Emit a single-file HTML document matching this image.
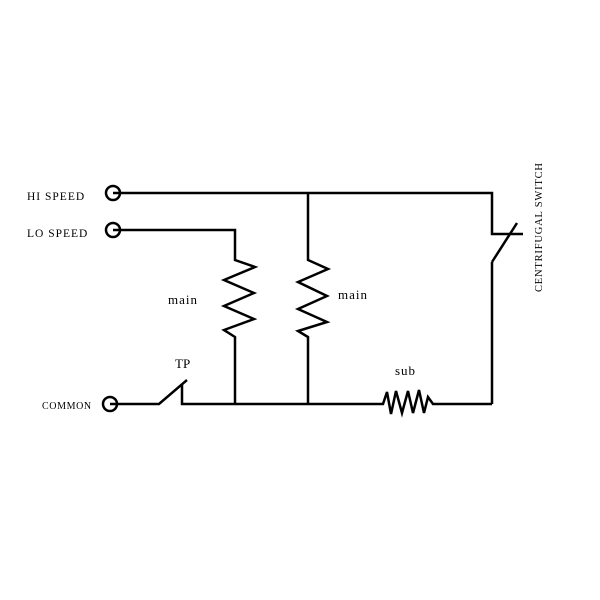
<!DOCTYPE html>
<html><head><style>body{margin:0;background:#fff}svg{display:block}</style></head><body>
<svg width="600" height="600" viewBox="0 0 600 600" xmlns="http://www.w3.org/2000/svg">
<g fill="none" stroke="#000" stroke-width="2.5">
<circle cx="113" cy="193" r="7"/>
<circle cx="113" cy="230" r="7"/>
<circle cx="110" cy="404" r="7"/>
<polyline points="113,193 492,193 492,234 523,234"/>
<line x1="492" y1="262" x2="517" y2="223"/>
<polyline points="492,262 492,404"/>
<polyline points="113,230 235,230 235,260 255,267 224,280 254,293 224,306 254,319 224,330 235,337 235,404"/>
<polyline points="308,193 308,260 328,269 298,282 327,296 298,309 327,322 298,331 308,337 308,404"/>
<polyline points="110,404 159,404 187,380"/>
<polyline points="182,384 182,404 383,404 387,392 391,414 396,391 402,413 408,391 413,413 419,390 424,413 428,397 433,404 492,404"/>
</g>
<g font-family="Liberation Serif, serif" fill="#000">
<text x="27" y="200" font-size="11.5" letter-spacing="1">HI SPEED</text>
<text x="27" y="237" font-size="11.5" letter-spacing="1">LO SPEED</text>
<text x="42" y="409" font-size="10" letter-spacing="0.6">COMMON</text>
<text x="168" y="304" font-size="13" letter-spacing="1">main</text>
<text x="338" y="299" font-size="13" letter-spacing="1">main</text>
<text x="175" y="368" font-size="13">TP</text>
<text x="395" y="375" font-size="13" letter-spacing="1">sub</text>
<text transform="translate(542,292) rotate(-90)" font-size="10.5" letter-spacing="0.8">CENTRIFUGAL SWITCH</text>
</g>
</svg>
</body></html>
